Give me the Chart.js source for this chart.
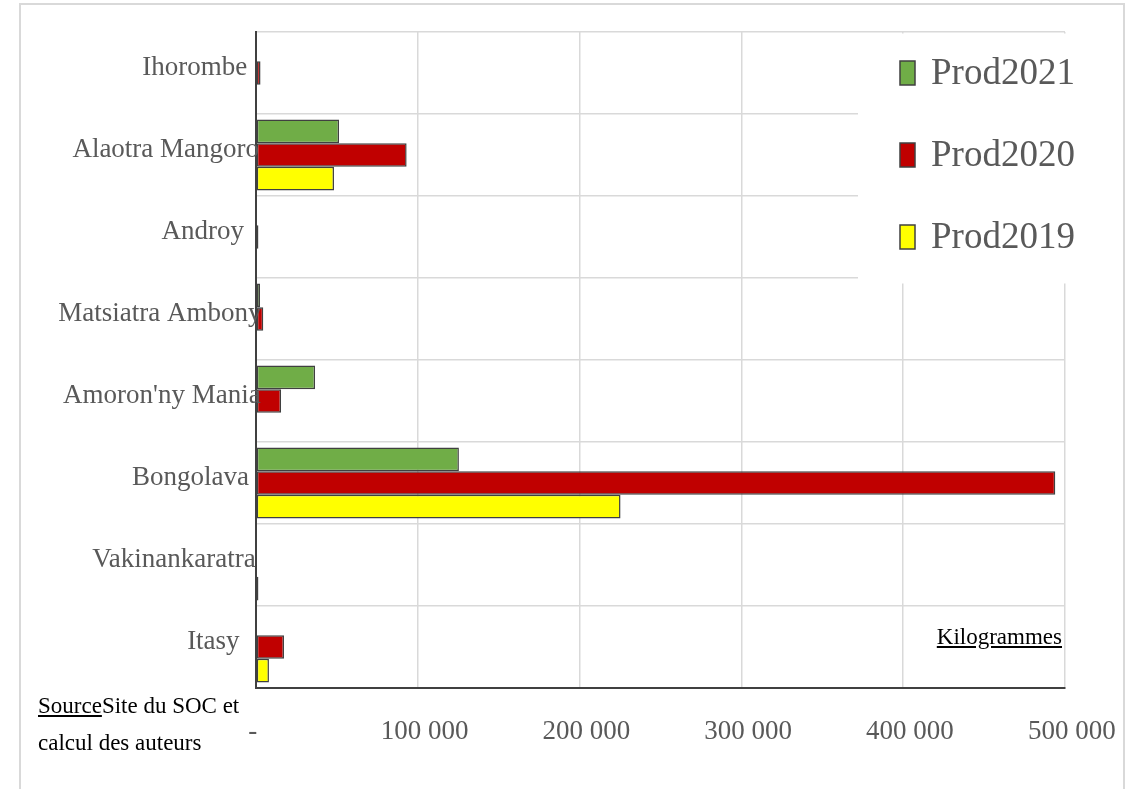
<!DOCTYPE html>
<html>
<head>
<meta charset="utf-8">
<script src="https://cdn.jsdelivr.net/npm/chart.js@4.4.0/dist/chart.umd.min.js"></script>
<style>
  html, body { margin: 0; padding: 0; background: #fff; overflow: hidden; }
  #wrap { position: relative; width: 1137px; height: 789px; }
  #frame { position: absolute; left: 19px; top: 3px; width: 1102px; height: 900px; border: 2px solid #d9d9d9; }
  canvas { position: absolute; left: 0; top: 0; }
  .note { position: absolute; font-family: "Liberation Serif", "Times New Roman", serif; font-size: 23px; color: #000; }
  #source { left: 38px; top: 687px; line-height: 37px; }
  #unit { right: 75px; top: 624px; line-height: 26px; }
  u { text-decoration: underline; }
</style>
</head>
<body>
<div id="wrap">
  <div id="frame"></div>
  <canvas id="barChart" width="1137" height="789"></canvas>
  <div class="note" id="source"><u>Source</u>Site du SOC et<br>calcul des auteurs</div>
  <div class="note" id="unit"><u>Kilogrammes</u></div>
</div>
<script>
// regions, top to bottom as in the picture
const regions = ["Ihorombe", "Alaotra Mangoro", "Androy", "Matsiatra Ambony", "Amoron'ny Mania", "Bongolava", "Vakinankaratra", "Itasy"];
const prod2021 = [0, 51300, 0, 2500, 36500, 125400, 0, 0];
const prod2020 = [2800, 93100, 1500, 4500, 15500, 494000, 0, 17300];
const prod2019 = [0, 48200, 0, 0, 0, 225300, 1500, 8000];
const xTicks = [0, 100000, 200000, 300000, 400000, 500000];

const serif = '"Liberation Serif", "Times New Roman", serif';

function fmt(v) {
  if (v === 0) return '- ';
  return '  ' + String(v).replace(/\B(?=(\d{3})+(?!\d))/g, ' ');
}

// category names drawn over the bars, right edge shifts a bit with text width (as excel did)
const catLabels = {
  id: 'catLabels',
  afterDatasetsDraw(chart) {
    const ctx = chart.ctx;
    const y = chart.scales.y;
    ctx.save();
    ctx.font = '27px ' + serif;
    ctx.fillStyle = '#595959';
    ctx.textAlign = 'right';
    ctx.textBaseline = 'middle';
    chart.data.labels.forEach((lab, i) => {
      const w = ctx.measureText(lab).width;
      ctx.fillText(lab, 232 + 0.145 * w, y.getPixelForTick(i) - 5);
    });
    ctx.restore();
  }
};

// legend box drawn over the top right corner of the plot
const boxLegend = {
  id: 'boxLegend',
  afterDraw(chart) {
    const ctx = chart.ctx;
    ctx.save();
    ctx.fillStyle = '#fff';
    ctx.fillRect(858, 33.5, 210, 250);
    chart.data.datasets.forEach((ds, i) => {
      const y = 73 + i * 82;
      ctx.fillStyle = ds.backgroundColor;
      ctx.fillRect(900, y - 12, 15, 24);
      ctx.strokeStyle = '#404040';
      ctx.lineWidth = 1.5;
      ctx.strokeRect(900, y - 12, 15, 24);
      ctx.fillStyle = '#595959';
      ctx.font = '37px ' + serif;
      ctx.textBaseline = 'middle';
      ctx.textAlign = 'left';
      ctx.fillText(ds.label, 931, y + 1);
    });
    ctx.restore();
  }
};

new Chart(document.getElementById('barChart'), {
  type: 'bar',
  data: {
    labels: regions,
    datasets: [
      { label: 'Prod2021', data: prod2021, backgroundColor: '#70AD47' },
      { label: 'Prod2020', data: prod2020, backgroundColor: '#C00000' },
      { label: 'Prod2019', data: prod2019, backgroundColor: '#FFFF00' }
    ]
  },
  options: {
    indexAxis: 'y',
    responsive: false,
    animation: false,
    layout: { padding: { left: 0, right: 72, top: 32, bottom: 0 } },
    datasets: {
      bar: {
        categoryPercentage: 0.866,
        barPercentage: 1,
        borderColor: '#404040',
        borderWidth: 1.5,
        borderSkipped: false
      }
    },
    plugins: {
      legend: { display: false },
      tooltip: { enabled: false }
    },
    scales: {
      x: {
        min: 0,
        max: 500000,
        afterBuildTicks: s => { s.ticks = xTicks.map(v => ({ value: v })); },
        afterFit: s => { s.height = 101; s.paddingLeft = 0; s.paddingRight = 0; },
        grid: { color: '#d9d9d9', lineWidth: 1.5, drawTicks: false },
        border: { color: '#404040', width: 2 },
        ticks: {
          callback: v => fmt(v),
          color: '#595959',
          font: { family: serif, size: 27 },
          padding: 28,
          maxRotation: 0
        }
      },
      y: {
        afterFit: s => { s.width = 256; s.paddingTop = 0; s.paddingBottom = 0; },
        grid: { color: '#d9d9d9', lineWidth: 1.5, drawTicks: false, offset: true },
        border: { color: '#404040', width: 2 },
        ticks: { display: false, autoSkip: false }
      }
    }
  },
  plugins: [catLabels, boxLegend]
});
</script>
</body>
</html>
